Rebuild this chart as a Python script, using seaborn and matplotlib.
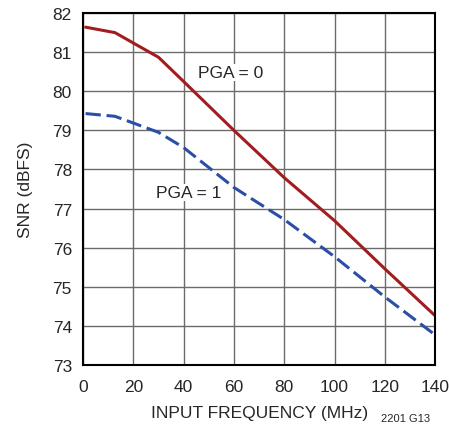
import pandas as pd
import seaborn as sns
import matplotlib.pyplot as plt

# SNR vs input frequency
freq_mhz = [1, 12.7, 30, 40, 60, 80, 100, 120, 140]
snr_pga0 = [81.64, 81.5, 80.87, 80.25, 79.0, 77.79, 76.69, 75.46, 74.26]
snr_pga1 = [79.43, 79.36, 78.95, 78.56, 77.54, 76.72, 75.77, 74.74, 73.77]

xticks = [0, 20, 40, 60, 80, 100, 120, 140]
yticks = [73, 74, 75, 76, 77, 78, 79, 80, 81, 82]

df = pd.DataFrame({
    "freq": freq_mhz * 2,
    "snr": snr_pga0 + snr_pga1,
    "pga": ["PGA = 0"] * len(freq_mhz) + ["PGA = 1"] * len(freq_mhz),
})

sns.set_style("white")
plt.rcParams['font.family'] = ['Liberation Sans', 'DejaVu Sans']

fig = plt.figure(figsize=(4.49, 4.27), dpi=100)
ax = fig.add_axes([0.185, 0.143, 0.784, 0.824])

sns.lineplot(data=df, x="freq", y="snr", hue="pga", style="pga",
             palette={"PGA = 0": "#a11d1f", "PGA = 1": "#2b4fa6"},
             dashes={"PGA = 0": "", "PGA = 1": (5, 1.9)},
             linewidth=2.2, legend=False, ax=ax)

ax.set_xlim(0, 140)
ax.set_ylim(73, 82)
ax.set_xticks(xticks)
ax.set_yticks(yticks)
ax.grid(True, color="#6b6b6b", linewidth=1.0)
ax.set_axisbelow(True)
for s in ax.spines.values():
    s.set_color("black")
    s.set_linewidth(1.5)
ax.tick_params(axis="both", length=0, labelsize=12.5)
ax.tick_params(axis="x", pad=10)
ax.tick_params(axis="y", pad=8)
ax.set_xlabel("INPUT FREQUENCY (MHz)", fontsize=12.5, labelpad=8)
ax.set_ylabel("SNR (dBFS)", fontsize=12.5, labelpad=14)

ax.text(58.5, 80.48, "PGA = 0", fontsize=12.5, ha="center", va="center",
        bbox=dict(facecolor="white", edgecolor="none", pad=1))
ax.text(42, 77.41, "PGA = 1", fontsize=12.5, ha="center", va="center",
        bbox=dict(facecolor="white", edgecolor="none", pad=1))
fig.text(0.904, 0.008, "2201 G13", fontsize=8, ha="center", va="bottom")

fig.savefig("out.png", dpi=100)
